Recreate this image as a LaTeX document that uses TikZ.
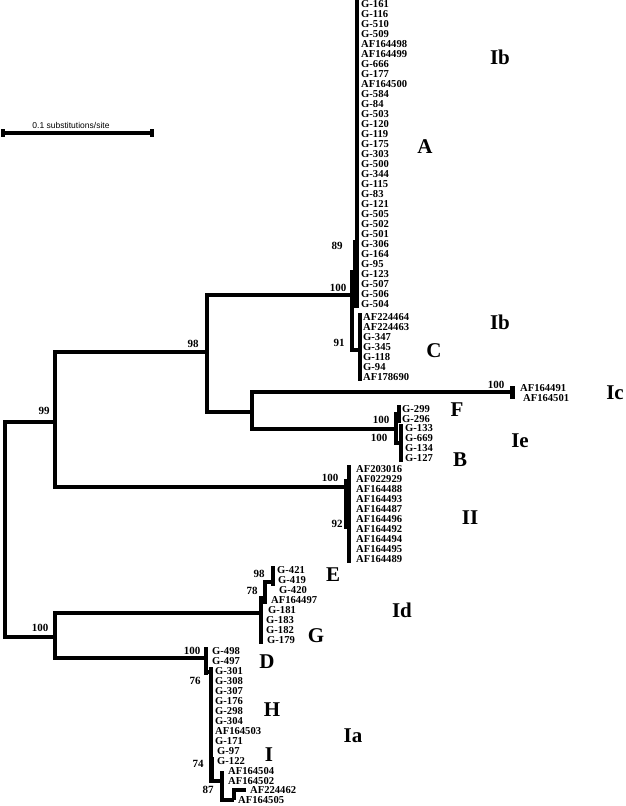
\documentclass[tikz,border=0pt]{standalone}
\usepackage{fontspec}
\setmainfont{Liberation Serif}
\newfontfamily\barfont{Liberation Sans}
\usepackage{tikz}
\usetikzlibrary{positioning}
\tikzstyle{branch} = [line width=3.1pt, line join=miter]
\tikzstyle{tipbar} = [line width=3.1pt]
\tikzstyle{fatbar} = [line width=5pt]
\tikzstyle{leaf} = [anchor=west, inner sep=0pt, text height=7pt, text depth=0pt, font=\fontsize{10.6}{10}\selectfont\bfseries]
\tikzstyle{boot} = [inner sep=0pt, font=\fontsize{11}{11}\selectfont\bfseries]
\tikzstyle{clade} = [inner sep=0pt, font=\fontsize{21}{21}\selectfont\bfseries]
\tikzstyle{scaletext} = [inner sep=0pt, font=\barfont\fontsize{8.5}{8.5}\selectfont]

\begin{document}
\begin{tikzpicture}[x=1pt,y=-1pt]
\useasboundingbox (0,0) rectangle (626,806);

% Scale bar
\coordinate (sL) at (3,133);
\coordinate (sR) at (152,133);
\draw[line width=3.6pt] (sL) -- (sR);
\draw[line width=4.5pt] ([yshift=4pt]sL) -- ([yshift=-4pt]sL);
\draw[line width=4.5pt] ([yshift=4pt]sR) -- ([yshift=-4pt]sR);
\node[scaletext] (stxt) at (71,125) {0.1 substitutions/site};

% Internal nodes
\coordinate (root) at (5,530);
\coordinate (n99) at (55,422);
\coordinate (n100b) at (55,637);
\coordinate (n98) at (207,352);
\coordinate (nII) at (346,487);
\coordinate (n100a) at (352,295);
\coordinate (nA) at (356,272);
\coordinate (nC) at (360,350);
\coordinate (nIcIe) at (252,412);
\coordinate (nIc) at (512,392);
\coordinate (nFB) at (396,429);
\coordinate (nF) at (399,414);
\coordinate (nB) at (401,443);
\coordinate (nEG) at (261,613);
\coordinate (n78) at (265,600);
\coordinate (nE) at (273,582);
\coordinate (nDHI) at (206,658);
\coordinate (n76) at (211,672);
\coordinate (n87) at (222,781);
\coordinate (nI4) at (234,800);

% Branches
\draw[branch] (root) |- (n99);
\draw[branch] (root) |- (n100b);
\draw[branch] (n99) |- (n98);
\draw[branch] (n99) |- (nII);
\draw[branch] (n98) |- (n100a);
\draw[branch] (n98) |- (nIcIe);
\draw[branch] (n100a) |- (nA);
\draw[branch] (n100a) |- (nC);
\draw[branch] (nIcIe) |- (nIc);
\draw[branch] (nIcIe) |- (nFB);
\draw[branch] (nFB) |- (nF);
\draw[branch] (nFB) |- (nB);
\draw[branch] (n100b) |- (nEG);
\draw[branch] (n100b) |- (nDHI);
\draw[branch] (nEG) |- (n78);
\draw[branch] (n78) |- (nE);
\draw[branch] (nDHI) |- (n76);
\draw[branch] (n76) |- (n87);
\draw[branch] (n87) |- (nI4);

% Leaves A
\foreach \lab [count=\i] in {G-161,G-116,G-510,G-509,AF164498,AF164499,G-666,G-177,AF164500,G-584,G-84,G-503,G-120,G-119,G-175,G-303,G-500,G-344,G-115,G-83,G-121,G-505,G-502,G-501,G-306,G-164,G-95,G-123,G-507,G-506,G-504}
  \node[leaf] (a\i) at (361,{4+10*(\i-1)}) {\lab};
\draw[tipbar] ([xshift=-4pt]a1.north west) -- ([xshift=-4pt]a31.south west);
\draw[fatbar] ([xshift=-6pt]a25.north west) -- ([xshift=-6pt]a31.south west);

% Leaves C
\foreach \lab [count=\i] in {AF224464,AF224463,G-347,G-345,G-118,G-94,AF178690}
  \node[leaf] (c\i) at (363,{317+10*(\i-1)}) {\lab};
\draw[tipbar] ([xshift=-3pt]c1.north west) -- ([xshift=-3pt]c7.south west);

% Leaves Ic
\node[leaf] (ic1) at (520,388) {AF164491};
\node[leaf] (ic2) at (523,398) {AF164501};
\draw[fatbar] ([yshift=6pt]nIc) -- ([yshift=-7pt]nIc);

% Leaves F and B
\node[leaf] (f1) at (402,409) {G-299};
\node[leaf] (f2) at (402,419) {G-296};
\draw[tipbar] ([xshift=-3pt]f1.north west) -- ([xshift=-3pt]f2.south west);
\foreach \lab [count=\i] in {G-133,G-669,G-134,G-127}
  \node[leaf] (b\i) at (405,{428+10*(\i-1)}) {\lab};
\draw[tipbar] ([xshift=-4pt]b1.north west) -- ([xshift=-4pt]b4.south west);

% Leaves II
\foreach \lab [count=\i] in {AF203016,AF022929,AF164488,AF164493,AF164487,AF164496,AF164492,AF164494,AF164495,AF164489}
  \node[leaf] (ii\i) at (356,{469+10*(\i-1)}) {\lab};
\draw[tipbar] ([xshift=-7pt]ii1.north west) -- ([xshift=-7pt]ii10.south west);
\draw[fatbar] ([xshift=-10pt]ii2.west) -- ([xshift=-10pt]ii7.west);

% Leaves E and G
\node[leaf] (eg1) at (277,570) {G-421};
\node[leaf] (eg2) at (278,580) {G-419};
\node[leaf] (eg3) at (279,590) {G-420};
\node[leaf] (eg4) at (271,600) {AF164497};
\node[leaf] (eg5) at (268,610) {G-181};
\node[leaf] (eg6) at (266,620) {G-183};
\node[leaf] (eg7) at (266,630) {G-182};
\node[leaf] (eg8) at (267,640) {G-179};
\draw[tipbar] (nEG |- eg4.north) -- (nEG |- eg8.south);
\draw[tipbar] (n78 |- eg3.north) -- (n78 |- eg4.south);
\draw[tipbar] (nE |- eg1.north) -- (nE |- eg3.north);

% Leaves D, H and I
\node[leaf] (d1) at (212,651) {G-498};
\node[leaf] (d2) at (212,661) {G-497};
\foreach \lab [count=\i] in {G-301,G-308,G-307,G-176,G-298,G-304,AF164503,G-171}
  \node[leaf] (h\i) at (215,{671+10*(\i-1)}) {\lab};
\node[leaf] (h9) at (217,751) {G-97};
\node[leaf] (h10) at (217,761) {G-122};
\node[leaf] (i1) at (228,771) {AF164504};
\node[leaf] (i2) at (228,781) {AF164502};
\node[leaf] (i3) at (250,790) {AF224462};
\node[leaf] (i4) at (238,800) {AF164505};
\draw[tipbar] (nDHI |- d1.north) -- (nDHI |- h1.south);
\draw[tipbar] (n76 |- h1.north) -- (n76 |- i2.center);
\draw[fatbar] (n76 |- h10.north) -- (n76 |- i2.center);
\draw[tipbar] (n87 |- i1.center) -- (n87 |- i4.center);
\draw[tipbar] (nI4) -- (nI4 |- i3.center) -- ([xshift=-4pt]i3.west);

% Bootstrap values
\node[boot] (b89) at (337,246) {89};
\node[boot] (b100a) at (338,288) {100};
\node[boot] (b91) at (339,343) {91};
\node[boot] (b98) at (193,344) {98};
\node[boot] (b99) at (44,411) {99};
\node[boot] (b100ic) at (496,385) {100};
\node[boot] (b100f) at (381,420) {100};
\node[boot] (b100bb) at (379,438) {100};
\node[boot] (b100ii) at (330,478) {100};
\node[boot] (b92) at (337,524) {92};
\node[boot] (b98e) at (259,574) {98};
\node[boot] (b78) at (252,591) {78};
\node[boot] (b100b) at (40,628) {100};
\node[boot] (b100d) at (192,651) {100};
\node[boot] (b76) at (195,681) {76};
\node[boot] (b74) at (198,764) {74};
\node[boot] (b87) at (208,790) {87};

% Clade names
\node[clade] (cIb1) at (500,57) {Ib};
\node[clade] (cA) at (425,147) {A};
\node[clade] (cIb2) at (500,322) {Ib};
\node[clade] (cC) at (434,351) {C};
\node[clade] (cIc) at (615,393) {Ic};
\node[clade] (cF) at (457,410) {F};
\node[clade] (cIe) at (520,441) {Ie};
\node[clade] (cB) at (460,460) {B};
\node[clade] (cII) at (470,518) {II};
\node[clade] (cE) at (333,575) {E};
\node[clade] (cId) at (402,610) {Id};
\node[clade] (cG) at (316,636) {G};
\node[clade] (cD) at (267,662) {D};
\node[clade] (cH) at (272,710) {H};
\node[clade] (cI) at (269,755) {I};
\node[clade] (cIa) at (353,736) {Ia};
\end{tikzpicture}
\end{document}
